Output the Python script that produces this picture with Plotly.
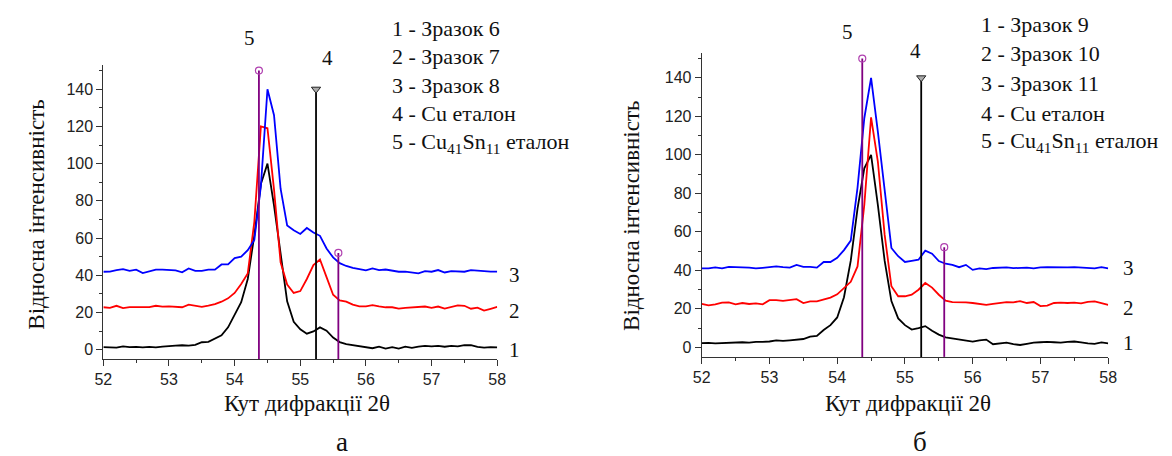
import plotly.graph_objects as go

# ---------------- data ----------------
theta = [round(52 + 0.1 * i, 1) for i in range(61)]

# panel a
a_s6 = [1.4, 1.4, 1.1, 1.8, 1.4, 1.5, 1.2, 1.5, 1.3, 1.6,
        2.0, 2.2, 2.4, 2.2, 2.6, 4.0, 4.2, 6.0, 7.7, 12.0,
        18.5, 25.5, 38.0, 61.5, 89.0, 100.0, 77.5, 50.8, 26.0, 15.0,
        11.0, 8.6, 9.8, 12.0, 10.2, 6.5, 4.1, 3.0, 2.4, 1.9,
        1.2, 0.8, 1.6, 0.6, 1.4, 0.6, 1.6, 1.0, 1.6, 2.0,
        1.8, 2.1, 1.6, 2.1, 1.8, 2.5, 2.4, 1.5, 1.1, 1.4, 1.2]
a_s7 = [22.8, 22.5, 23.6, 22.4, 22.9, 22.8, 22.6, 22.9, 23.6, 23.2,
        23.3, 23.0, 22.8, 24.2, 23.5, 23.0, 23.7, 24.5, 25.8, 27.6,
        30.5, 35.3, 41.0, 68.7, 120.0, 119.0, 86.0, 47.0, 35.0, 30.5,
        31.5, 38.0, 45.5, 48.5, 39.0, 29.5, 26.5, 25.8, 24.2, 23.3,
        23.3, 23.9, 23.3, 22.8, 22.8, 22.1, 22.5, 22.8, 22.8, 23.2,
        22.5, 23.2, 22.1, 22.8, 23.8, 23.6, 22.0, 22.6, 21.0, 22.0, 23.0]
a_s8 = [41.9, 42.0, 42.8, 43.3, 42.4, 43.0, 41.2, 41.9, 43.0, 43.0,
        42.8, 42.6, 41.6, 43.7, 42.4, 42.4, 43.0, 43.0, 45.8, 45.8,
        49.2, 50.0, 53.5, 59.0, 88.0, 140.0, 126.0, 86.5, 66.8, 64.2,
        62.2, 65.4, 63.0, 61.2, 54.4, 49.6, 46.5, 45.0, 44.0, 43.3,
        42.6, 43.7, 42.8, 43.1, 42.6, 41.9, 41.9, 41.5, 41.0, 42.2,
        41.9, 42.8, 41.5, 42.2, 41.9, 41.9, 42.8, 42.4, 42.2, 42.0, 42.0]

# panel b
b_s9 = [2.2, 2.3, 2.0, 2.2, 2.5, 2.4, 2.6, 2.4, 2.8, 2.8,
        3.0, 3.6, 3.3, 3.6, 4.0, 4.3, 5.5, 5.9, 9.0, 11.5,
        15.5, 26.0, 45.0, 72.0, 93.0, 100.0, 74.0, 45.0, 24.0, 15.0,
        11.5, 9.2, 10.0, 11.0, 8.6, 6.6, 5.2, 4.6, 4.0, 3.6,
        2.9, 3.6, 4.0, 1.6, 2.0, 2.4, 1.6, 1.2, 1.8, 2.4,
        2.6, 2.8, 2.6, 2.4, 2.8, 3.0, 2.6, 2.0, 1.8, 2.5, 2.0]
b_s10 = [22.5, 21.8, 22.3, 23.2, 23.3, 22.3, 23.0, 22.5, 22.8, 22.3,
         24.5, 24.5, 24.1, 24.6, 25.0, 23.0, 23.8, 23.8, 24.8, 25.8,
         27.5, 30.5, 34.0, 42.0, 74.0, 119.5, 96.5, 58.5, 31.7, 26.5,
         26.5, 27.3, 29.9, 33.4, 31.0, 27.3, 24.2, 23.5, 23.5, 23.3,
         23.0, 22.5, 22.0, 22.5, 23.0, 23.5, 23.3, 24.0, 23.0, 23.5,
         21.4, 21.6, 23.0, 23.2, 23.0, 23.2, 22.8, 23.6, 23.8, 23.0, 22.0]
b_s11 = [41.0, 41.0, 41.5, 41.0, 41.8, 41.5, 41.5, 41.4, 41.0, 41.3,
         41.5, 42.0, 41.6, 41.4, 42.8, 41.8, 41.8, 41.4, 44.3, 44.3,
         46.5, 50.5, 55.4, 83.0, 119.0, 140.0, 112.0, 81.0, 51.6, 47.3,
         44.3, 44.9, 45.5, 50.2, 48.6, 44.8, 43.4, 42.8, 41.6, 42.8,
         40.2, 41.0, 40.6, 41.2, 41.3, 41.5, 41.1, 41.2, 41.4, 41.0,
         41.5, 41.6, 41.5, 41.6, 41.5, 41.6, 41.4, 41.2, 41.0, 41.6, 41.0]

# reference (standard) lines
cusn_pos = [54.37, 55.58]
cusn_int = [150, 52]
cu_pos = [55.24]
cu_int = [140]

legend_a = ["1 - Зразок 6", "2 - Зразок 7", "3 - Зразок 8",
            "4 - Cu еталон", "5 - Cu<sub>41</sub>Sn<sub>11</sub> еталон"]
legend_b = ["1 - Зразок 9", "2 - Зразок 10", "3 - Зразок 11",
            "4 - Cu еталон", "5 - Cu<sub>41</sub>Sn<sub>11</sub> еталон"]
curve_nums = ["1", "2", "3"]

X_MIN, X_MAX = 52, 58
Y_MIN, Y_MAX = -5, 153
W, H = 1172, 456

SERIF = "Liberation Serif"
SANS = "Liberation Sans"
PURPLE = "#800080"

DOM = {
    "a": dict(x=[87.7 / W, 487.7 / W], y=[105 / H, 1 - 57 / H]),
    "b": dict(x=[695.4 / W, 1108.2 / W], y=[107.1 / H, 1 - 44.8 / H]),
}

fig = go.Figure()


def add_panel(xa, ya, s1, s2, s3):
    for ys, col in ((s1, "black"), (s2, "#FF0000"), (s3, "#0000FF")):
        fig.add_trace(go.Scatter(x=theta, y=ys, mode="lines", xaxis=xa, yaxis=ya,
                                 line=dict(color=col, width=1.8), showlegend=False,
                                 hoverinfo="skip"))
    for p, h in zip(cusn_pos, cusn_int):
        fig.add_trace(go.Scatter(x=[p, p], y=[Y_MIN, h], mode="lines", xaxis=xa, yaxis=ya,
                                 line=dict(color=PURPLE, width=1.8), showlegend=False,
                                 hoverinfo="skip"))
    fig.add_trace(go.Scatter(x=cusn_pos, y=cusn_int, mode="markers", xaxis=xa, yaxis=ya,
                             marker=dict(symbol="circle-open", size=7, color="#B040B0",
                                         line=dict(width=1.2)),
                             showlegend=False, hoverinfo="skip"))
    for p, h in zip(cu_pos, cu_int):
        fig.add_trace(go.Scatter(x=[p, p], y=[Y_MIN, h], mode="lines", xaxis=xa, yaxis=ya,
                                 line=dict(color="black", width=1.8), showlegend=False,
                                 hoverinfo="skip"))
    fig.add_trace(go.Scatter(x=cu_pos, y=cu_int, mode="markers", xaxis=xa, yaxis=ya,
                             marker=dict(symbol="triangle-down", size=8, color="#aaaaaa",
                                         line=dict(width=1, color="#222")),
                             showlegend=False, hoverinfo="skip"))


add_panel("x", "y", a_s6, a_s7, a_s8)
add_panel("x2", "y2", b_s9, b_s10, b_s11)


def xax(domain, anchor):
    return dict(domain=domain, anchor=anchor, range=[X_MIN, X_MAX], dtick=1, tick0=52,
                ticks="outside", ticklen=6, tickwidth=1, tickcolor="#333",
                showline=True, linecolor="#333", linewidth=1, showgrid=False,
                zeroline=False, tickfont=dict(family=SANS, size=16, color="#222"),
                minor=dict(dtick=0.5, ticks="outside", ticklen=3, tickcolor="#333"))


def yax(domain, anchor):
    return dict(domain=domain, anchor=anchor, range=[Y_MIN, Y_MAX], dtick=20, tick0=0,
                ticks="outside", ticklen=6, tickwidth=1, tickcolor="#333",
                showline=True, linecolor="#333", linewidth=1, showgrid=False,
                zeroline=False, tickfont=dict(family=SANS, size=16, color="#222"),
                minor=dict(dtick=10, tick0=0, ticks="outside", ticklen=3, tickcolor="#333"))


fig.update_layout(
    width=W, height=H, margin=dict(l=0, r=0, t=0, b=0),
    paper_bgcolor="white", plot_bgcolor="white",
    xaxis=xax(DOM["a"]["x"], "y"),
    yaxis=yax(DOM["a"]["y"], "x"),
    xaxis2=xax(DOM["b"]["x"], "y2"),
    yaxis2=yax(DOM["b"]["y"], "x2"),
)

anns = []


def txt(x, y, s, size, xanchor="center", angle=0, family=SERIF):
    anns.append(dict(x=x, y=y, xref="paper", yref="paper", text=s, showarrow=False,
                     xanchor=xanchor, yanchor="middle", textangle=angle,
                     font=dict(family=family, size=size, color="#111")))


def px(x):
    return x / W


def py(y):
    return 1 - y / H


def dx(panel, v):
    d = DOM[panel]["x"]
    return d[0] + (v - X_MIN) / (X_MAX - X_MIN) * (d[1] - d[0])


def dy(panel, v):
    d = DOM[panel]["y"]
    return d[0] + (v - Y_MIN) / (Y_MAX - Y_MIN) * (d[1] - d[0])


# panel a texts
for i, s in enumerate(legend_a):
    txt(px(379), py([20, 48, 77, 106, 135][i]), s, 22, xanchor="left")
for s, yv in zip(curve_nums, [0, 20.8, 40]):
    txt(dx("a", 58.27), dy("a", yv), s, 21)
txt(dx("a", 54.22), dy("a", 167.5), "5", 21)
txt(dx("a", 55.41), dy("a", 157), "4", 21)
txt(px(19), py(207), "Відносна інтенсивність", 23, angle=-90)
txt(px(295), py(395), "Кут дифракції 2θ", 23)
txt(px(330), py(434), "а", 27)

# panel b texts
for i, s in enumerate(legend_b):
    txt(px(977), py([17, 46, 76, 105, 134][i]), s, 22, xanchor="left")
for s, yv in zip(curve_nums, [2.2, 20.4, 41]):
    txt(dx("b", 58.30), dy("b", yv), s, 21)
txt(dx("b", 54.15), dy("b", 164), "5", 21)
txt(dx("b", 55.16), dy("b", 154), "4", 21)
txt(px(623.5), py(208), "Відносна інтенсивність", 23, angle=-90)
txt(px(905), py(395), "Кут дифракції 2θ", 23)
txt(px(917), py(434), "б", 27)

fig.update_layout(annotations=anns)
fig.write_html("out.html")
